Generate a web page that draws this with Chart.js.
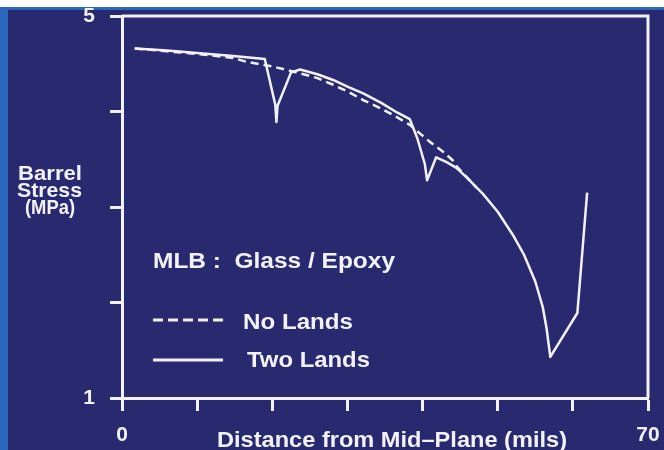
<!DOCTYPE html>
<html>
<head>
<meta charset="utf-8">
<script src="https://cdn.jsdelivr.net/npm/chart.js@4"></script>
<style>
  html, body { margin: 0; padding: 0; background: #ffffff; }
  canvas { display: block; }
</style>
</head>
<body>
<canvas id="stressChart" width="664" height="450"></canvas>
<script>
// distance from mid-plane (mils) and barrel stress (MPa)
const twoLandsX = [1.7, 6.0, 10.4, 14.8, 19.0, 20.4, 20.55, 20.7, 22.5, 23.7, 26.0, 28.1, 30.0, 32.1, 34.5, 36.6, 38.3, 39.3, 40.3, 40.6, 41.8, 43.2, 44.5, 46.0, 48.0, 50.0, 52.0, 53.5, 55.0, 56.0, 56.5, 57.0, 60.6, 61.9];
const twoLandsY = [4.66, 4.64, 4.61, 4.58, 4.55, 4.07, 3.89, 4.06, 4.41, 4.44, 4.39, 4.33, 4.26, 4.19, 4.09, 3.99, 3.92, 3.72, 3.45, 3.28, 3.52, 3.47, 3.41, 3.30, 3.14, 2.95, 2.71, 2.50, 2.22, 1.95, 1.73, 1.43, 1.89, 3.15];

const noLandsX = [1.7, 6.0, 10.4, 14.8, 16.6, 20.1, 23.7, 26.0, 28.1, 30.0, 32.1, 34.5, 36.6, 38.3, 41.0, 42.7, 44.0, 44.6, 47.2];
const noLandsY = [4.66, 4.63, 4.60, 4.56, 4.52, 4.47, 4.40, 4.35, 4.28, 4.21, 4.12, 4.03, 3.94, 3.86, 3.68, 3.58, 3.49, 3.42, 3.20];

const xLabelValues = [0, 70];
const yLabelValues = [1, 5];

const xTitle = 'Distance from Mid\u2013Plane (mils)';
const yTitle = ['Barrel', 'Stress', '(MPa)'];
const noteText = 'MLB :  Glass / Epoxy';
const seriesNames = ['No Lands', 'Two Lands'];

const NAVY = '#29296f';
const INK = '#f2f2fb';
const FONT = "'Liberation Sans', Arial, Helvetica, sans-serif";

function toPoints(xs, ys) {
  return xs.map((x, i) => ({ x, y: ys[i] }));
}

// text stretched horizontally between left and right, on a baseline
function fitText(ctx, text, left, right, baseline, size) {
  ctx.save();
  ctx.font = `bold ${size}px ${FONT}`;
  ctx.textBaseline = 'alphabetic';
  ctx.textAlign = 'left';
  const w = ctx.measureText(text).width;
  ctx.translate(left, baseline);
  ctx.scale((right - left) / w, 1);
  ctx.fillText(text, 0, 0);
  ctx.restore();
}

const backdrop = {
  id: 'backdrop',
  beforeDraw(chart) {
    const { ctx, width, height } = chart;
    ctx.save();
    ctx.fillStyle = NAVY;
    ctx.fillRect(0, 0, width, height);
    ctx.fillStyle = '#ffffff';
    ctx.fillRect(0, 0, width, 7);
    ctx.fillStyle = '#2a67bd';
    ctx.fillRect(0, 7, width, 3);
    ctx.fillRect(0, 7, 8, height);
    ctx.restore();
  },
};

const decorations = {
  id: 'decorations',
  afterDraw(chart) {
    const { ctx, chartArea } = chart;
    ctx.save();
    ctx.strokeStyle = INK;
    ctx.fillStyle = INK;
    ctx.lineWidth = 3;

    // top and right frame
    ctx.beginPath();
    ctx.moveTo(chartArea.left, chartArea.top);
    ctx.lineTo(chartArea.right, chartArea.top);
    ctx.lineTo(chartArea.right, chartArea.bottom);
    ctx.stroke();

    // titles
    fitText(ctx, xTitle, 217, 567, 447, 22);
    fitText(ctx, yTitle[0], 18, 82, 180, 21);
    fitText(ctx, yTitle[1], 17, 82, 197, 21);
    fitText(ctx, yTitle[2], 25, 75, 214, 21);

    // note and legend
    fitText(ctx, noteText, 153, 395, 268, 22);
    fitText(ctx, seriesNames[0], 243, 353, 329, 22);
    fitText(ctx, seriesNames[1], 247, 370, 367, 22);

    ctx.setLineDash([10, 5]);
    ctx.beginPath();
    ctx.moveTo(153, 320);
    ctx.lineTo(223, 320);
    ctx.stroke();
    ctx.setLineDash([]);
    ctx.beginPath();
    ctx.moveTo(153, 360);
    ctx.lineTo(223, 360);
    ctx.stroke();
    ctx.restore();
  },
};

new Chart(document.getElementById('stressChart'), {
  type: 'scatter',
  data: {
    datasets: [
      {
        label: seriesNames[0],
        data: toPoints(noLandsX, noLandsY),
        showLine: true,
        borderColor: INK,
        borderWidth: 2.5,
        borderDash: [8, 5],
        pointRadius: 0,
        tension: 0,
      },
      {
        label: seriesNames[1],
        data: toPoints(twoLandsX, twoLandsY),
        showLine: true,
        borderColor: INK,
        borderWidth: 2.5,
        borderJoinStyle: 'round',
        pointRadius: 0,
        tension: 0,
      },
    ],
  },
  options: {
    responsive: false,
    animation: false,
    layout: { padding: { left: 0, top: 16, right: 16, bottom: 0 } },
    plugins: {
      legend: { display: false },
      tooltip: { enabled: false },
    },
    scales: {
      x: {
        type: 'linear',
        min: 0,
        max: 70,
        afterFit: (scale) => {
          scale.height = 52;
          scale.paddingLeft = 0;
          scale.paddingRight = 0;
        },
        border: { display: true, color: INK, width: 3 },
        grid: {
          drawOnChartArea: false,
          drawTicks: true,
          tickLength: 13,
          tickColor: INK,
          tickWidth: 3,
        },
        ticks: {
          stepSize: 10,
          color: INK,
          padding: 12,
          maxRotation: 0,
          font: { family: FONT, size: 21, weight: 'bold' },
          callback: (v) => (xLabelValues.includes(v) ? String(v) : ''),
        },
      },
      y: {
        type: 'linear',
        min: 1,
        max: 5,
        afterFit: (scale) => {
          scale.width = 122;
          scale.paddingTop = 0;
          scale.paddingBottom = 0;
        },
        border: { display: true, color: INK, width: 3 },
        grid: {
          drawOnChartArea: false,
          drawTicks: true,
          tickLength: 12,
          tickColor: INK,
          tickWidth: 3,
        },
        ticks: {
          stepSize: 1,
          color: INK,
          padding: 15,
          font: { family: FONT, size: 21, weight: 'bold' },
          callback: (v) => (yLabelValues.includes(v) ? String(v) : ''),
        },
      },
    },
  },
  plugins: [backdrop, decorations],
});
</script>
</body>
</html>
